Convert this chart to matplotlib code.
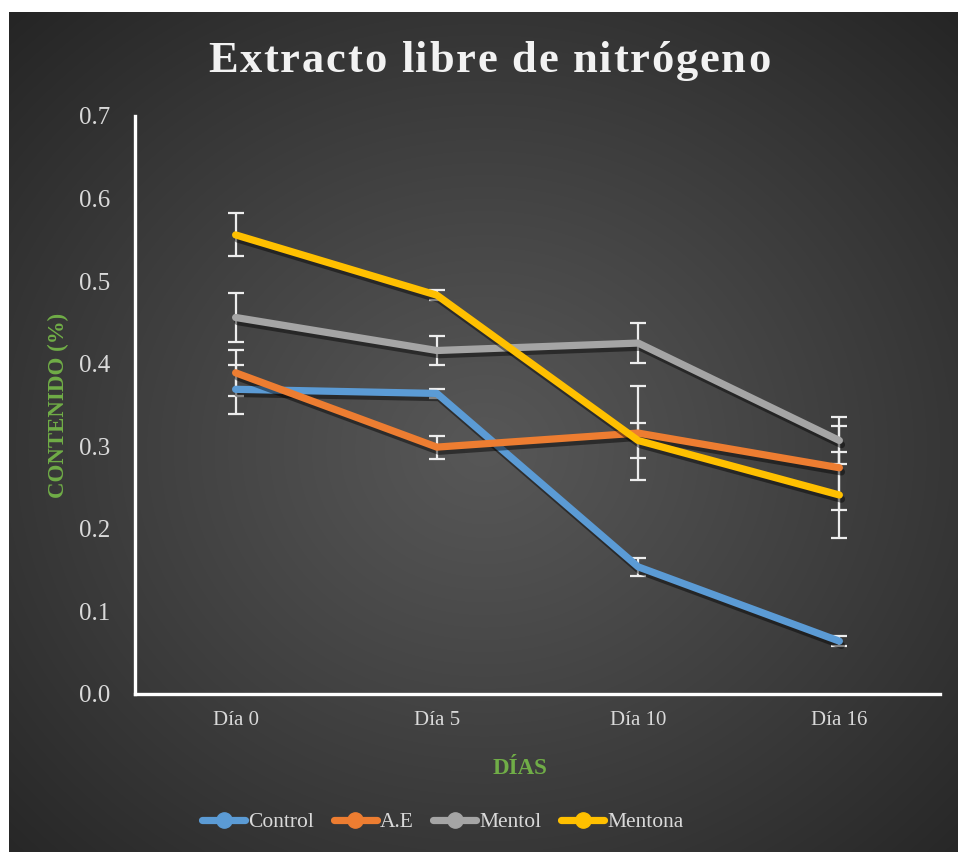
import numpy as np
import matplotlib
matplotlib.use("Agg")
import matplotlib.pyplot as plt
from matplotlib.lines import Line2D
from matplotlib import patheffects as pe
from matplotlib.font_manager import FontProperties, findfont
from matplotlib.ft2font import FT2Font

# ---------------- data ----------------
categories = ['Día 0', 'Día 5', 'Día 10', 'Día 16']
series_names = ['Control', 'A.E', 'Mentol', 'Mentona']
control = [0.369, 0.364, 0.154, 0.064]
control_err = [0.030, 0.005, 0.011, 0.006]
ae = [0.389, 0.299, 0.316, 0.274]
ae_err = [0.028, 0.014, 0.057, 0.051]
mentol = [0.456, 0.416, 0.425, 0.307]
mentol_err = [0.030, 0.018, 0.024, 0.028]
mentona = [0.556, 0.483, 0.307, 0.241]
mentona_err = [0.026, 0.006, 0.021, 0.052]
yticks = [0.0, 0.1, 0.2, 0.3, 0.4, 0.5, 0.6, 0.7]

colors = ['#5B9BD5', '#ED7D31', '#A5A5A5', '#FFC000']
values = [control, ae, mentol, mentona]
errors = [control_err, ae_err, mentol_err, mentona_err]

SERIF = ['Liberation Serif', 'DejaVu Serif']
W, H = 958, 852
fig = plt.figure(figsize=(W / 100, H / 100), dpi=100)
fig.patch.set_facecolor('white')

# ---------------- background panel (radial gradient) ----------------
bg = fig.add_axes([9 / W, 0, (W - 9) / W, (H - 12) / H])
bg.set_axis_off()
ny, nx = 420, 475
yy, xx = np.mgrid[0:ny, 0:nx]
cx, cy = nx * 0.50, ny * 0.52
r = np.sqrt(((xx - cx) / nx) ** 2 + ((yy - cy) / ny) ** 2) / 0.72
r = np.clip(r, 0, 1)
inner, outer = 0x57 / 255, 0x25 / 255
val = inner + (outer - inner) * r ** 1.1
img = np.dstack([val, val, val])
bg.imshow(img, aspect='auto', extent=[0, 1, 0, 1], interpolation='bilinear')
bg.set_xlim(0, 1)
bg.set_ylim(0, 1)

# ---------------- main axes ----------------
ax = fig.add_axes([135 / W, (H - 694) / H, 805 / W, 578 / H])
ax.patch.set_alpha(0)
x = np.arange(len(categories))

for vals, errs in zip(values, errors):
    ax.errorbar(x, vals, yerr=errs, fmt='none', ecolor='#EDEDED', elinewidth=1.6,
                capsize=6, capthick=1.6, zorder=2)
shadow = [pe.SimpleLineShadow(offset=(1.5, -3), shadow_color='black', alpha=0.45),
          pe.Normal()]
for i, (vals, col) in enumerate(zip(values, colors)):
    ax.plot(x, vals, color=col, lw=5.2, solid_capstyle='round',
            solid_joinstyle='round', zorder=3 + i, path_effects=shadow)

ax.set_xlim(-0.5, len(categories) - 0.5)
ax.set_ylim(0, 0.7)
ax.set_yticks(yticks)
ax.set_yticklabels([f'{t:.1f}' for t in yticks])
ax.set_xticks(x)
ax.set_xticklabels(categories)
ax.tick_params(axis='y', length=0, pad=18, labelsize=18, labelcolor='#D9D9D9')
ax.tick_params(axis='x', length=0, pad=12, labelsize=15, labelcolor='#D9D9D9')
for lab in ax.get_xticklabels() + ax.get_yticklabels():
    lab.set_family(SERIF)
for s in ['top', 'right']:
    ax.spines[s].set_visible(False)
for s in ['left', 'bottom']:
    ax.spines[s].set_color('white')
    ax.spines[s].set_linewidth(2.4)

# axis labels
fig.text(58 / W, (H - 405) / H, 'CONTENIDO (%)', rotation=90, ha='center', va='center',
         color='#70AD47', fontsize=16.5, fontweight='bold', family=SERIF)
fig.text(520 / W, (H - 768) / H, 'DÍAS', ha='center', va='center',
         color='#70AD47', fontsize=16.5, fontweight='bold', family=SERIF)

# ---------------- title with letter spacing ----------------
title = 'Extracto libre de nitrógeno'
tsize = 32
fp = FontProperties(family=SERIF, weight='bold', size=tsize)
font = FT2Font(findfont(fp))
font.set_size(tsize, 100)
advs = []
for c in title:
    g = font.load_char(ord(c))
    advs.append(g.linearHoriAdvance / 65536.0)
target_w = 562.0
spacing = (target_w - sum(advs)) / (len(title) - 1)
x0 = 489 - target_w / 2
for c, a in zip(title, advs):
    fig.text(x0 / W, (H - 72) / H, c, ha='left', va='baseline', fontproperties=fp,
             color='#F2F2F2')
    x0 += a + spacing

# ---------------- legend ----------------
handles = [Line2D([0], [0], color=c, lw=5.2, marker='o', ms=11, solid_capstyle='round')
           for c in colors]
leg = fig.legend(handles, series_names, loc='center', bbox_to_anchor=(443 / W, (H - 822) / H),
                 ncol=4, frameon=False, handlelength=2.0, handletextpad=0.15,
                 columnspacing=0.9, prop=FontProperties(family=SERIF, size=15.5))
for t in leg.get_texts():
    t.set_color('#D9D9D9')

fig.savefig('out.png', dpi=100, facecolor=fig.get_facecolor())
